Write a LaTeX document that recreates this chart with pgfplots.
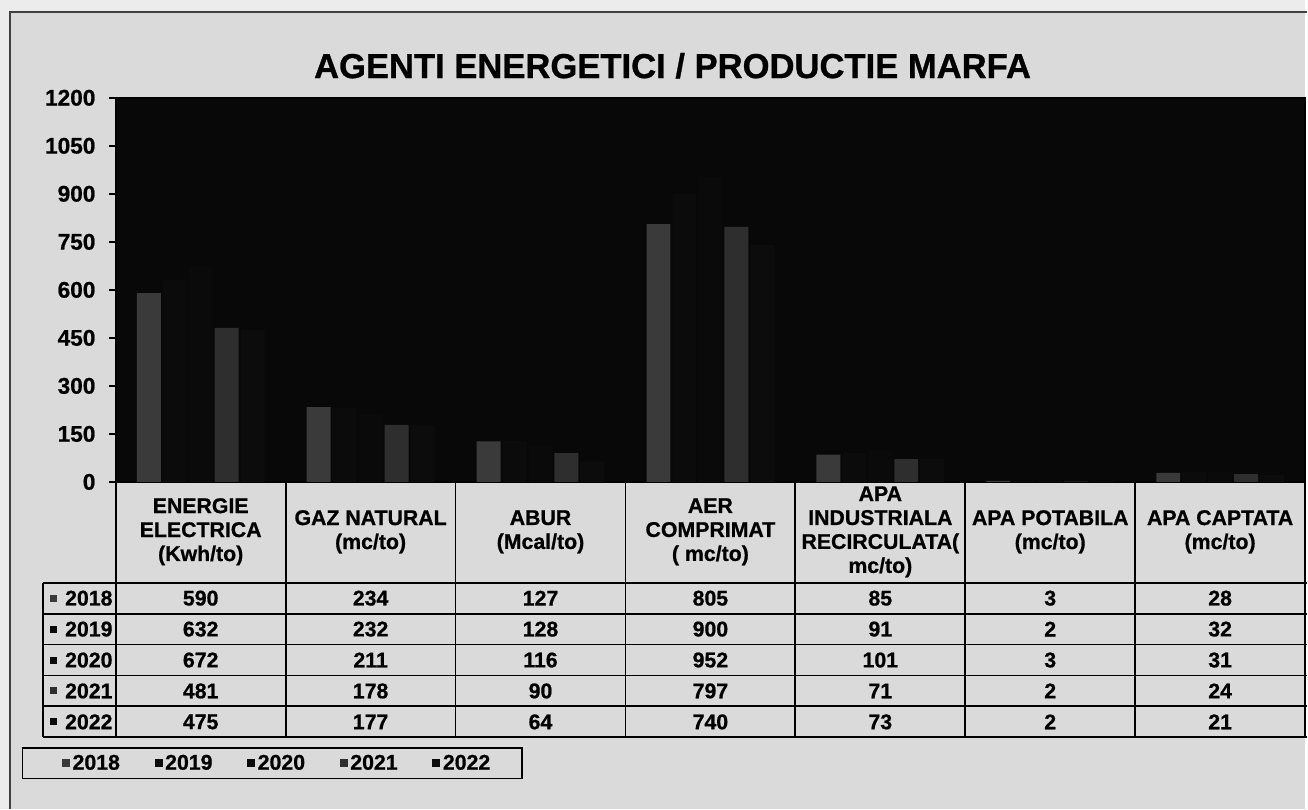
\documentclass[border=0pt]{standalone}
\usepackage{pgfplots}
\pgfplotsset{compat=1.18}
\usepackage{pgfplotstable}
\usepackage{fontspec}
\setmainfont{Liberation Sans}[BoldFeatures={FakeBold=0.8}]
\definecolor{bg}{HTML}{DADADA}
\definecolor{outerbg}{HTML}{ECECEC}
\definecolor{plotbg}{HTML}{080808}
\definecolor{c18}{HTML}{3A3A3A}
\definecolor{c19}{HTML}{0B0B0B}
\definecolor{c20}{HTML}{0A0A0A}
\definecolor{c21}{HTML}{2E2E2E}
\definecolor{c22}{HTML}{0C0C0C}

\pgfplotstableread{
x y2018 y2019 y2020 y2021 y2022
0 590 632 672 481 475
1 234 232 211 178 177
2 127 128 116 90 64
3 805 900 952 797 740
4 85 91 101 71 73
5 3 2 3 2 2
6 28 32 31 24 21
}\datatable

\newcommand{\tfont}{\fontsize{16}{18}\selectfont\bfseries}

\begin{document}
\begin{tikzpicture}
\begin{scope}[x=0.75pt,y=-0.75pt]
  \useasboundingbox (0,0) rectangle (1308,811);
  \fill[outerbg] (0,0) rectangle (1308,811);
  \fill[bg] (10,12) rectangle (1308,811);
  \draw[line width=1.5pt, black!75] (10,811) -- (10,12) -- (1310,12);
  \node[font=\fontsize{26}{30}\selectfont\bfseries] at (674,66) {AGENTI ENERGETICI / PRODUCTIE MARFA};
\end{scope}

\begin{axis}[
  at={(87pt,-362.25pt)}, anchor=south west,
  scale only axis, width=894pt, height=288.75pt,
  xmin=-0.5, xmax=6.5, ymin=0, ymax=1200,
  ytick={0,150,...,1200}, xtick=\empty,
  ytick pos=left, tick align=outside, major tick length=5.25pt,
  axis background/.style={fill=plotbg},
  axis line style={line width=1.2pt, black},
  tick style={black, line width=1.2pt},
  yticklabel style={font=\fontsize{17}{17}\selectfont\bfseries, xshift=-6.5pt},
  /pgf/number format/assume math mode=true,
  /pgf/number format/1000 sep={},
  ybar=1.5pt, bar width=18pt,
  legend columns=5,
  legend style={at={(-0.0789,-0.691)}, anchor=north west, draw=black,
    line width=1.2pt, fill=bg, font=\fontsize{16}{16}\selectfont\bfseries,
    inner xsep=22pt, inner ysep=3pt,
    /tikz/every even column/.append style={column sep=16.5pt}},
  legend image code/.code={\path[draw=none,fill=none] (-7.5pt,-3pt) rectangle (0pt,3pt); \fill[#1,draw=none] (0pt,-3pt) rectangle (6pt,3pt);},
]
\addplot[fill=c18, draw=none] table[x=x,y=y2018]{\datatable};
\addplot[fill=c19, draw=none] table[x=x,y=y2019]{\datatable};
\addplot[fill=c20, draw=none] table[x=x,y=y2020]{\datatable};
\addplot[fill=c21, draw=none] table[x=x,y=y2021]{\datatable};
\addplot[fill=c22, draw=none] table[x=x,y=y2022]{\datatable};
\legend{2018,2019,2020,2021,2022}
\end{axis}

\begin{scope}[x=0.75pt,y=-0.75pt]
  % grid lines of the data table
  \foreach \k in {0,...,7} \draw[line width=1.4pt] ({116+\k*170.2857},483) -- ({116+\k*170.2857},739);
  \draw[line width=1.4pt] (43,584) -- (43,739);
  \foreach \r in {0,...,5} \draw[line width=1.4pt] (43,{584+\r*31}) -- (1310,{584+\r*31});
  % header
  \foreach \h [count=\k from 0] in {{ENERGIE\\ELECTRICA\\(Kwh/to)},{GAZ NATURAL\\(mc/to)},{ABUR\\(Mcal/to)},{AER\\COMPRIMAT\\( mc/to)},{APA\\INDUSTRIALA\\RECIRCULATA(\\mc/to)},{APA POTABILA\\(mc/to)},{APA CAPTATA\\(mc/to)}}
    \node[font=\tfont, align=center, inner sep=0pt] at ({116+(\k+0.5)*170.2857},533) {\h};
  % rows
  \foreach \yr/\col [count=\ci from 1] in {2018/c18,2019/c19,2020/c20,2021/c21,2022/c22} {
    \node[font=\tfont, anchor=east, inner sep=0pt] at (113,{584+(\ci-0.5)*31}) {\yr};
    \fill[\col] (50,{584+(\ci-0.5)*31-3.5}) rectangle (57,{584+(\ci-0.5)*31+3.5});
    \foreach \c in {0,...,6} {
      \pgfplotstablegetelem{\c}{[index]\ci}\of\datatable
      \node[font=\tfont, inner sep=0pt] at ({116+(\c+0.5)*170.2857},{584+(\ci-0.5)*31}) {\pgfplotsretval};
    }
  }
\end{scope}
\end{tikzpicture}
\end{document}
